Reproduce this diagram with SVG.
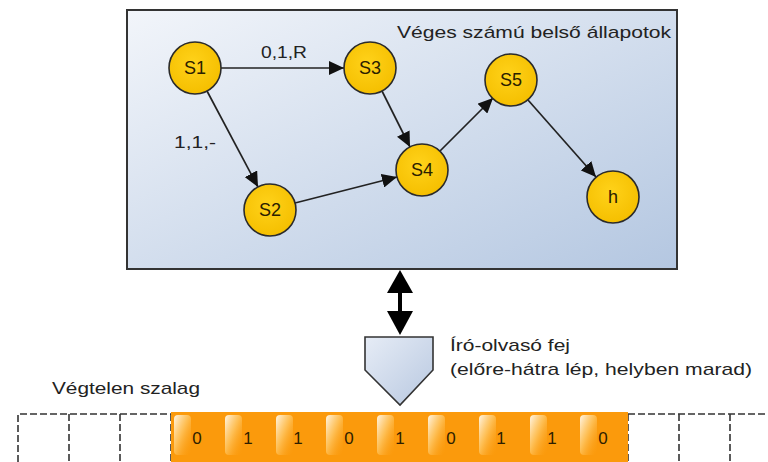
<svg xmlns="http://www.w3.org/2000/svg" width="768" height="462" viewBox="0 0 768 462">
<defs>
<linearGradient id="boxg" x1="0" y1="0" x2="1" y2="1">
<stop offset="0" stop-color="#f2f5fa"/>
<stop offset="1" stop-color="#b4c7e1"/>
</linearGradient>
<linearGradient id="headg" x1="0" y1="0" x2="1" y2="1">
<stop offset="0" stop-color="#e6ecf6"/>
<stop offset="1" stop-color="#b8c8e0"/>
</linearGradient>
<radialGradient id="nodeg" cx="0.45" cy="0.4" r="0.6">
<stop offset="0" stop-color="#ffd21a"/>
<stop offset="1" stop-color="#f5bf00"/>
</radialGradient>
<linearGradient id="gloss" x1="0" y1="0" x2="1" y2="1">
<stop offset="0" stop-color="#fff6e6"/>
<stop offset="0.45" stop-color="#ffc866" stop-opacity="0.8"/>
<stop offset="1" stop-color="#fb9a0c" stop-opacity="0"/>
</linearGradient>
<marker id="ah" markerUnits="userSpaceOnUse" markerWidth="16" markerHeight="14" refX="15" refY="7" orient="auto">
<path d="M0,0 L15,7 L0,14 z" fill="#111"/>
</marker>
</defs>
<style>
.t{font-family:"Liberation Sans",Arial,sans-serif;fill:#222}
.node circle{fill:url(#nodeg);stroke:#2b2b2b;stroke-width:1.6}
.node text{font-family:"Liberation Sans",Arial,sans-serif;font-size:18px;fill:#2a2000;text-anchor:middle}
.edge{stroke:#222;stroke-width:1.7;fill:none;marker-end:url(#ah)}
.dash{stroke:#333;stroke-width:1.6;stroke-dasharray:7,3;fill:none}
.digit{font-family:"Liberation Sans",Arial,sans-serif;font-size:17px;fill:#2e1e00;text-anchor:middle}
</style>

<g id="states-box">
<rect x="127" y="10" width="550" height="259" fill="url(#boxg)" stroke="#333" stroke-width="2"/>
<text class="t" x="671" y="38" font-size="17" text-anchor="end" textLength="274" lengthAdjust="spacingAndGlyphs">Véges számú belső állapotok</text>
</g>

<g id="connectors">
<line class="edge" x1="221" y1="68" x2="344" y2="68"/>
<line class="edge" x1="207" y1="91" x2="258" y2="187"/>
<line class="edge" x1="382" y1="91" x2="410" y2="147"/>
<line class="edge" x1="295" y1="203" x2="397" y2="177"/>
<line class="edge" x1="440" y1="151" x2="493" y2="98"/>
<line class="edge" x1="528" y1="100" x2="596" y2="177"/>
<text class="t" x="284" y="58" font-size="17" text-anchor="middle" textLength="46" lengthAdjust="spacingAndGlyphs">0,1,R</text>
<text class="t" x="195" y="148" font-size="17" text-anchor="middle" textLength="42" lengthAdjust="spacingAndGlyphs">1,1,-</text>
<g id="rw-link">
<rect x="398" y="290" width="4" height="24" fill="#000"/>
<path d="M400,270 L413,293 L387,293 z" fill="#000"/>
<path d="M400,335 L413,311 L387,311 z" fill="#000"/>
</g>
</g>

<g id="S1" class="node"><circle cx="195" cy="68" r="26"/><text x="195" y="74">S1</text></g>
<g id="S3" class="node"><circle cx="370" cy="68" r="26"/><text x="370" y="74">S3</text></g>
<g id="S5" class="node"><circle cx="511" cy="80" r="26"/><text x="511" y="86">S5</text></g>
<g id="S4" class="node"><circle cx="422" cy="170" r="26"/><text x="422" y="176">S4</text></g>
<g id="S2" class="node"><circle cx="270" cy="210" r="26"/><text x="270" y="216">S2</text></g>
<g id="h" class="node"><circle cx="613" cy="197" r="26"/><text x="613" y="203">h</text></g>

<g id="head">
<path d="M365,337 L433,337 L433,370 L400,405 L365,370 z" fill="url(#headg)" stroke="#333" stroke-width="1.6"/>
<text class="t" x="450" y="351" font-size="17" textLength="120" lengthAdjust="spacingAndGlyphs">Író-olvasó fej</text>
<text class="t" x="450" y="375" font-size="17" textLength="302" lengthAdjust="spacingAndGlyphs">(előre-hátra lép, helyben marad)</text>
</g>

<g id="tape">
<text class="t" x="52" y="394" font-size="17" textLength="148" lengthAdjust="spacingAndGlyphs">Végtelen szalag</text>
<path class="dash" d="M18,462 L18,414 L171,414 M69,414 L69,462 M120,414 L120,462 M171,414 L171,462"/>
<path class="dash" d="M628,414 L628,462 M628,414 L768,414 M679,414 L679,462 M730,414 L730,462"/>
<rect x="171" y="412" width="457" height="50" fill="#fb9a0c"/>
<g id="cells">
<rect x="174" y="415" width="17" height="40" rx="4" fill="url(#gloss)"/>
<rect x="225" y="415" width="17" height="40" rx="4" fill="url(#gloss)"/>
<rect x="276" y="415" width="17" height="40" rx="4" fill="url(#gloss)"/>
<rect x="326" y="415" width="17" height="40" rx="4" fill="url(#gloss)"/>
<rect x="377" y="415" width="17" height="40" rx="4" fill="url(#gloss)"/>
<rect x="428" y="415" width="17" height="40" rx="4" fill="url(#gloss)"/>
<rect x="479" y="415" width="17" height="40" rx="4" fill="url(#gloss)"/>
<rect x="530" y="415" width="17" height="40" rx="4" fill="url(#gloss)"/>
<rect x="580" y="415" width="17" height="40" rx="4" fill="url(#gloss)"/>
<text class="digit" x="197" y="444">0</text>
<text class="digit" x="248" y="444">1</text>
<text class="digit" x="298" y="444">1</text>
<text class="digit" x="349" y="444">0</text>
<text class="digit" x="400" y="444">1</text>
<text class="digit" x="451" y="444">0</text>
<text class="digit" x="501" y="444">1</text>
<text class="digit" x="552" y="444">1</text>
<text class="digit" x="603" y="444">0</text>
</g>
</g>
</svg>
